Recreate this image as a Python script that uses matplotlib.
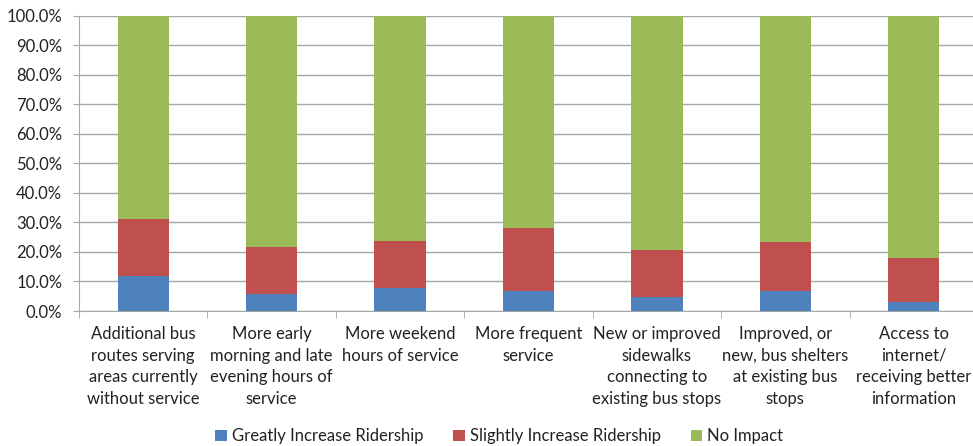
import matplotlib.pyplot as plt
import numpy as np
from matplotlib.ticker import PercentFormatter, FixedLocator

# Data (percent)
categories = [
    "Additional bus\nroutes serving\nareas currently\nwithout service",
    "More early\nmorning and late\nevening hours of\nservice",
    "More weekend\nhours of service",
    "More frequent\nservice",
    "New or improved\nsidewalks\nconnecting to\nexisting bus stops",
    "Improved, or\nnew, bus shelters\nat existing bus\nstops",
    "Access to\ninternet/\nreceiving better\ninformation",
]
greatly = [11.9, 5.9, 7.9, 6.9, 4.8, 6.9, 2.9]
slightly = [19.3, 15.9, 15.8, 21.2, 15.9, 16.4, 15.1]
no_impact = [100 - g - s for g, s in zip(greatly, slightly)]

series_names = ["Greatly Increase Ridership", "Slightly Increase Ridership", "No Impact"]
colors = ["#4F81BD", "#C0504D", "#9BBB59"]

plt.rcParams["font.family"] = ["Lato", "DejaVu Sans"]

fig = plt.figure(figsize=(9.73, 4.46), dpi=100)
ax = fig.add_axes([79 / 973, (446 - 311) / 446, (978 - 79) / 973, 295.3 / 446])

x = np.arange(len(categories))
bottom = np.zeros(len(categories))
for vals, name, col in zip([greatly, slightly, no_impact], series_names, colors):
    ax.bar(x, vals, width=0.4, bottom=bottom, color=col, label=name, zorder=3)
    bottom += np.array(vals)

ax.set_xlim(-0.5, len(categories) - 0.5)
ax.set_ylim(0, 100)
ax.set_yticks(np.arange(0, 101, 10))
ax.yaxis.set_major_formatter(PercentFormatter(decimals=1))
ax.grid(axis="y", color="#a6a6a6", linewidth=1, zorder=0)

ax.set_xticks(x)
ax.set_xticklabels(categories, fontsize=12, color="#222222", linespacing=1.42)
ax.tick_params(axis="x", which="major", length=0, pad=11)
ax.xaxis.set_minor_locator(FixedLocator(np.arange(-0.5, len(categories), 1)))
ax.tick_params(axis="x", which="minor", length=5, color="#a6a6a6", direction="out")
ax.tick_params(axis="y", length=4, color="#a6a6a6", labelsize=12, labelcolor="#222222", pad=8)

for side in ["top", "right"]:
    ax.spines[side].set_visible(False)
for side in ["left", "bottom"]:
    ax.spines[side].set_color("#a6a6a6")

fig.legend(loc="lower center", bbox_to_anchor=(0.513, -0.03), ncol=3, frameon=False,
           fontsize=12, handlelength=0.7, handleheight=0.7, handletextpad=0.3,
           columnspacing=1.8, labelcolor="#222222")

fig.savefig("out.png", dpi=100)
